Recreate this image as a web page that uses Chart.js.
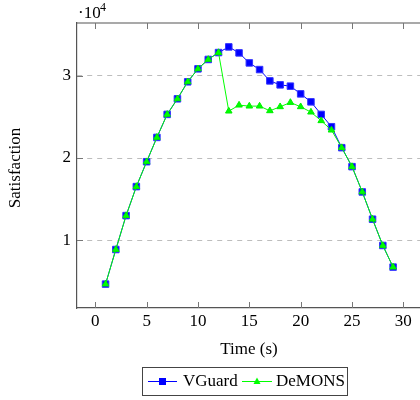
<!DOCTYPE html>
<html>
<head>
<meta charset="utf-8">
<script src="https://cdn.jsdelivr.net/npm/chart.js@4.4.0/dist/chart.umd.min.js"></script>
<style>
  html, body { margin: 0; padding: 0; background: #fff; overflow: hidden; }
  canvas { display: block; }
</style>
</head>
<body>
<canvas id="chart" width="420" height="400"></canvas>
<script>
// data
const timeSteps = [1, 2, 3, 4, 5, 6, 7, 8, 9, 10, 11, 12, 13, 14, 15, 16, 17, 18, 19, 20, 21, 22, 23, 24, 25, 26, 27, 28, 29];
const vguard = [4650, 8860, 12990, 16520, 19550, 22510, 25310, 27210, 29280, 30860, 32000, 32840, 33530, 32800, 31580, 30770, 29390, 28910, 28750, 27810, 26840, 25310, 23810, 21260, 18950, 15870, 12550, 9350, 6720];
const demons = [4650, 8860, 12990, 16520, 19550, 22510, 25310, 27210, 29280, 30860, 32000, 32840, 25710, 26440, 26320, 26320, 25750, 26240, 26760, 26240, 25590, 24540, 23400, 21260, 18950, 15870, 12550, 9350, 6720];
const xTicks = [0, 5, 10, 15, 20, 25, 30];
const yTicks = [10000, 20000, 30000];

const serif = '"Liberation Serif", "DejaVu Serif", serif';

const extras = {
    id: 'extras',
    afterDraw(chart) {
        const ctx = chart.ctx;
        const area = chart.chartArea;
        const xs = chart.scales.x, ys = chart.scales.y;
        ctx.save();
        // top border
        ctx.strokeStyle = '#555';
        ctx.lineWidth = 1.2;
        ctx.beginPath();
        ctx.moveTo(area.left, area.top);
        ctx.lineTo(chart.width, area.top);
        ctx.stroke();
        // inner ticks
        ctx.strokeStyle = '#777';
        ctx.lineWidth = 1;
        ctx.beginPath();
        xTicks.forEach(t => {
            const px = Math.round(xs.getPixelForValue(t)) + 0.5;
            ctx.moveTo(px, area.bottom); ctx.lineTo(px, area.bottom - 6);
            ctx.moveTo(px, area.top); ctx.lineTo(px, area.top + 6);
        });
        yTicks.forEach(t => {
            const py = Math.round(ys.getPixelForValue(t)) + 0.5;
            ctx.moveTo(area.left, py); ctx.lineTo(area.left + 6, py);
        });
        ctx.stroke();

        ctx.fillStyle = '#000';
        // exponent label
        ctx.font = '17px ' + serif;
        ctx.textAlign = 'left';
        ctx.textBaseline = 'alphabetic';
        ctx.fillText('\u00B710', 78, 18);
        ctx.font = '12px ' + serif;
        ctx.fillText('4', 100, 11);

        // axis titles
        ctx.font = '17px ' + serif;
        ctx.textAlign = 'center';
        ctx.textBaseline = 'middle';
        ctx.fillText('Time (s)', 249, 350);
        ctx.save();
        ctx.translate(16, 168);
        ctx.rotate(-Math.PI / 2);
        ctx.fillText('Satisfaction', 0, 0);
        ctx.restore();

        // legend
        ctx.strokeStyle = '#444';
        ctx.lineWidth = 1;
        ctx.strokeRect(142.5, 367.5, 205, 28);
        const ly = 381.5;
        ctx.strokeStyle = '#0000ff';
        ctx.beginPath(); ctx.moveTo(148, ly); ctx.lineTo(177, ly); ctx.stroke();
        ctx.fillStyle = '#0000ff';
        ctx.fillRect(159, ly - 3.5, 7, 7);
        ctx.strokeStyle = '#00ff00';
        ctx.beginPath(); ctx.moveTo(242, ly); ctx.lineTo(272, ly); ctx.stroke();
        ctx.fillStyle = '#00ff00';
        ctx.beginPath();
        ctx.moveTo(257, ly - 4); ctx.lineTo(260.5, ly + 2.5); ctx.lineTo(253.5, ly + 2.5);
        ctx.closePath(); ctx.fill();
        ctx.fillStyle = '#000';
        ctx.textAlign = 'left';
        ctx.fillText('VGuard', 183, ly);
        ctx.fillText('DeMONS', 276, ly);
        ctx.restore();
    }
};

new Chart(document.getElementById('chart'), {
    type: 'line',
    data: {
        datasets: [
            {
                label: 'VGuard',
                data: timeSteps.map((t, i) => ({ x: t, y: vguard[i] })),
                borderColor: '#0000ff',
                backgroundColor: '#0000ff',
                borderWidth: 1,
                pointStyle: 'rect',
                pointRadius: 4.6,
                pointBorderWidth: 1,
                pointBorderColor: '#3333ff',
                pointBackgroundColor: '#0000ff',
                order: 1
            },
            {
                label: 'DeMONS',
                data: timeSteps.map((t, i) => ({ x: t, y: demons[i] })),
                borderColor: '#00ff00',
                backgroundColor: '#00ff00',
                borderWidth: 1,
                pointStyle: 'triangle',
                pointRadius: 3.8,
                pointBorderWidth: 1,
                pointBorderColor: '#00ee00',
                pointBackgroundColor: '#00ff00',
                order: 0
            }
        ]
    },
    options: {
        responsive: false,
        animation: false,
        layout: { autoPadding: false, padding: { top: 23, right: 0, left: 0, bottom: 62 } },
        plugins: { legend: { display: false }, tooltip: { enabled: false } },
        scales: {
            x: {
                type: 'linear',
                min: -1.78,
                max: 31.62,
                afterBuildTicks: s => { s.ticks = xTicks.map(v => ({ value: v })); },
                afterFit: s => { s.height = 30; s.paddingLeft = 0; s.paddingRight = 0; },
                ticks: { font: { family: serif, size: 17 }, color: '#000', padding: 3, maxRotation: 0 },
                grid: { display: false, drawTicks: false },
                border: { display: true, color: '#555', width: 1.2 }
            },
            y: {
                min: 1740,
                max: 36440,
                afterBuildTicks: s => { s.ticks = yTicks.map(v => ({ value: v })); },
                afterFit: s => { s.width = 77; s.paddingTop = 0; s.paddingBottom = 0; },
                ticks: { font: { family: serif, size: 17 }, color: '#000', padding: 6, callback: v => v / 10000 },
                grid: { drawTicks: false, color: '#bdbdbd', lineWidth: 1 },
                border: { display: true, color: '#555', width: 1.2, dash: [5, 5] }
            }
        }
    },
    plugins: [extras]
});
</script>
</body>
</html>
